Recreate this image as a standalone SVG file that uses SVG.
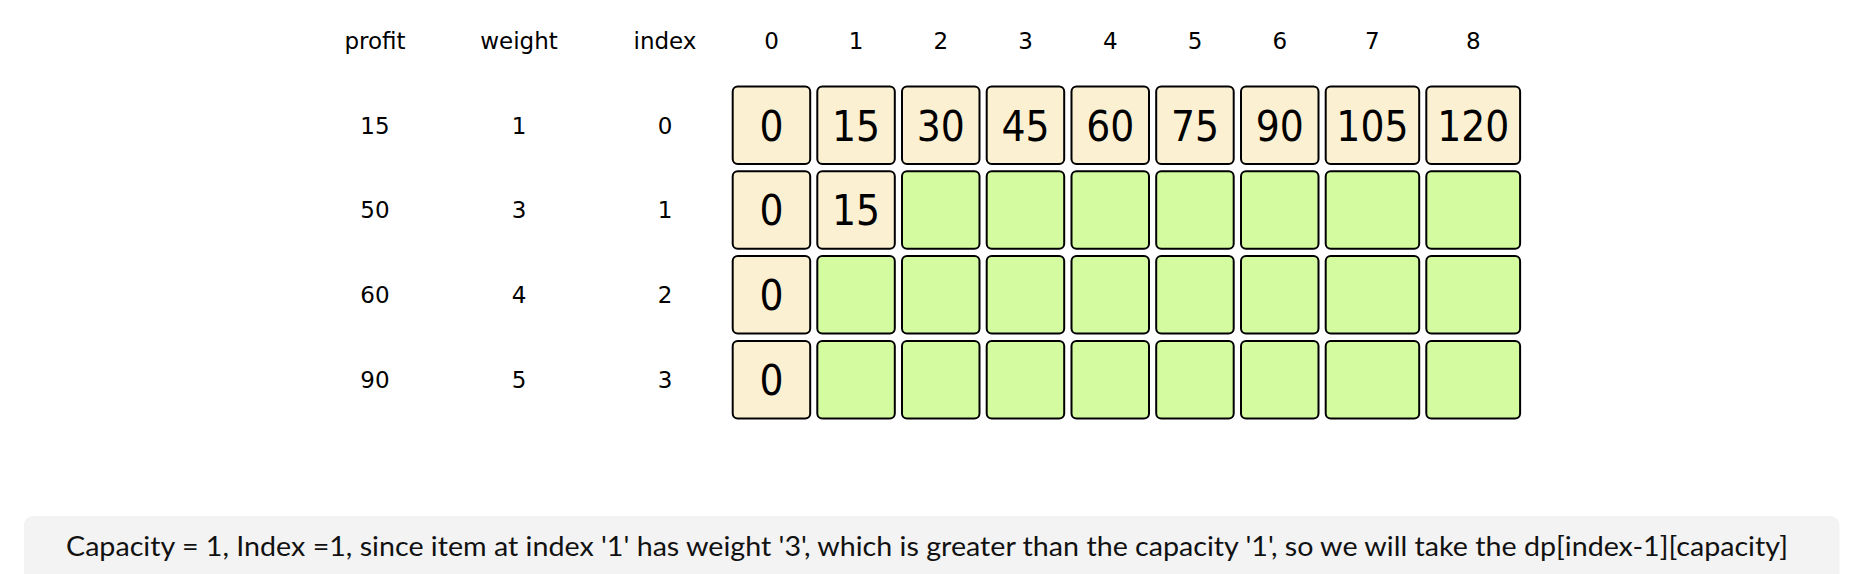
<svg xmlns="http://www.w3.org/2000/svg" width="1850" height="574" viewBox="0 0 1850 574">
<style>
.lbl{font-family:"DejaVu Sans",Verdana,sans-serif;font-size:23px;fill:#000;text-anchor:middle}
.c{stroke:#000;stroke-width:2}
.cr{fill:#fcf0d2}
.gr{fill:#d5fba1}
.v{font-family:"DejaVu Sans Condensed","DejaVu Sans",sans-serif;font-stretch:condensed;font-size:42px;fill:#000;text-anchor:middle}
.cap{font-family:Lato,"Open Sans",sans-serif;font-size:27px;fill:#111;text-anchor:middle}
</style>
<rect width="1850" height="574" fill="#fff"/>
<g id="headers">
<text class="lbl" x="375" y="49">profit</text>
<text class="lbl" x="519" y="49">weight</text>
<text class="lbl" x="665" y="49">index</text>
<text class="lbl" x="771.5" y="49">0</text>
<text class="lbl" x="856" y="49">1</text>
<text class="lbl" x="940.8" y="49">2</text>
<text class="lbl" x="1025.5" y="49">3</text>
<text class="lbl" x="1110.2" y="49">4</text>
<text class="lbl" x="1195" y="49">5</text>
<text class="lbl" x="1279.7" y="49">6</text>
<text class="lbl" x="1372.4" y="49">7</text>
<text class="lbl" x="1473.2" y="49">8</text>
</g>
<g id="items">
<text class="lbl" x="375" y="133.5">15</text><text class="lbl" x="519" y="133.5">1</text><text class="lbl" x="665" y="133.5">0</text>
<text class="lbl" x="375" y="218.3">50</text><text class="lbl" x="519" y="218.3">3</text><text class="lbl" x="665" y="218.3">1</text>
<text class="lbl" x="375" y="303.1">60</text><text class="lbl" x="519" y="303.1">4</text><text class="lbl" x="665" y="303.1">2</text>
<text class="lbl" x="375" y="387.9">90</text><text class="lbl" x="519" y="387.9">5</text><text class="lbl" x="665" y="387.9">3</text>
</g>
<g id="row0">
<rect class="c cr" x="732.7" y="86.5" width="77.5" height="77.5" rx="5"/>
<rect class="c cr" x="817.3" y="86.5" width="77.5" height="77.5" rx="5"/>
<rect class="c cr" x="902" y="86.5" width="77.5" height="77.5" rx="5"/>
<rect class="c cr" x="986.7" y="86.5" width="77.5" height="77.5" rx="5"/>
<rect class="c cr" x="1071.5" y="86.5" width="77.5" height="77.5" rx="5"/>
<rect class="c cr" x="1156.2" y="86.5" width="77.5" height="77.5" rx="5"/>
<rect class="c cr" x="1241" y="86.5" width="77.5" height="77.5" rx="5"/>
<rect class="c cr" x="1325.7" y="86.5" width="93.5" height="77.5" rx="5"/>
<rect class="c cr" x="1426.3" y="86.5" width="93.8" height="77.5" rx="5"/>
<text class="v" x="771.5" y="140.5">0</text>
<text class="v" x="856" y="140.5">15</text>
<text class="v" x="940.8" y="140.5">30</text>
<text class="v" x="1025.5" y="140.5">45</text>
<text class="v" x="1110.2" y="140.5">60</text>
<text class="v" x="1195" y="140.5">75</text>
<text class="v" x="1279.7" y="140.5">90</text>
<text class="v" x="1372.4" y="140.5">105</text>
<text class="v" x="1473.2" y="140.5">120</text>
</g>
<g id="row1">
<rect class="c cr" x="732.7" y="171.3" width="77.5" height="77.5" rx="5"/>
<rect class="c cr" x="817.3" y="171.3" width="77.5" height="77.5" rx="5"/>
<rect class="c gr" x="902" y="171.3" width="77.5" height="77.5" rx="5"/>
<rect class="c gr" x="986.7" y="171.3" width="77.5" height="77.5" rx="5"/>
<rect class="c gr" x="1071.5" y="171.3" width="77.5" height="77.5" rx="5"/>
<rect class="c gr" x="1156.2" y="171.3" width="77.5" height="77.5" rx="5"/>
<rect class="c gr" x="1241" y="171.3" width="77.5" height="77.5" rx="5"/>
<rect class="c gr" x="1325.7" y="171.3" width="93.5" height="77.5" rx="5"/>
<rect class="c gr" x="1426.3" y="171.3" width="93.8" height="77.5" rx="5"/>
<text class="v" x="771.5" y="225.3">0</text>
<text class="v" x="856" y="225.3">15</text>
</g>
<g id="row2">
<rect class="c cr" x="732.7" y="256.1" width="77.5" height="77.5" rx="5"/>
<rect class="c gr" x="817.3" y="256.1" width="77.5" height="77.5" rx="5"/>
<rect class="c gr" x="902" y="256.1" width="77.5" height="77.5" rx="5"/>
<rect class="c gr" x="986.7" y="256.1" width="77.5" height="77.5" rx="5"/>
<rect class="c gr" x="1071.5" y="256.1" width="77.5" height="77.5" rx="5"/>
<rect class="c gr" x="1156.2" y="256.1" width="77.5" height="77.5" rx="5"/>
<rect class="c gr" x="1241" y="256.1" width="77.5" height="77.5" rx="5"/>
<rect class="c gr" x="1325.7" y="256.1" width="93.5" height="77.5" rx="5"/>
<rect class="c gr" x="1426.3" y="256.1" width="93.8" height="77.5" rx="5"/>
<text class="v" x="771.5" y="310.1">0</text>
</g>
<g id="row3">
<rect class="c cr" x="732.7" y="341" width="77.5" height="77.5" rx="5"/>
<rect class="c gr" x="817.3" y="341" width="77.5" height="77.5" rx="5"/>
<rect class="c gr" x="902" y="341" width="77.5" height="77.5" rx="5"/>
<rect class="c gr" x="986.7" y="341" width="77.5" height="77.5" rx="5"/>
<rect class="c gr" x="1071.5" y="341" width="77.5" height="77.5" rx="5"/>
<rect class="c gr" x="1156.2" y="341" width="77.5" height="77.5" rx="5"/>
<rect class="c gr" x="1241" y="341" width="77.5" height="77.5" rx="5"/>
<rect class="c gr" x="1325.7" y="341" width="93.5" height="77.5" rx="5"/>
<rect class="c gr" x="1426.3" y="341" width="93.8" height="77.5" rx="5"/>
<text class="v" x="771.5" y="395">0</text>
</g>
<g id="connectors"></g>
<g id="caption">
<rect x="24" y="516" width="1815.5" height="80" rx="9" fill="#f3f3f3"/>
<text class="cap" x="927" y="556" textLength="1722" lengthAdjust="spacingAndGlyphs">Capacity = 1, Index =1, since item at index '1' has weight '3', which is greater than the capacity '1', so we will take the dp[index-1][capacity]</text>
</g>
</svg>
